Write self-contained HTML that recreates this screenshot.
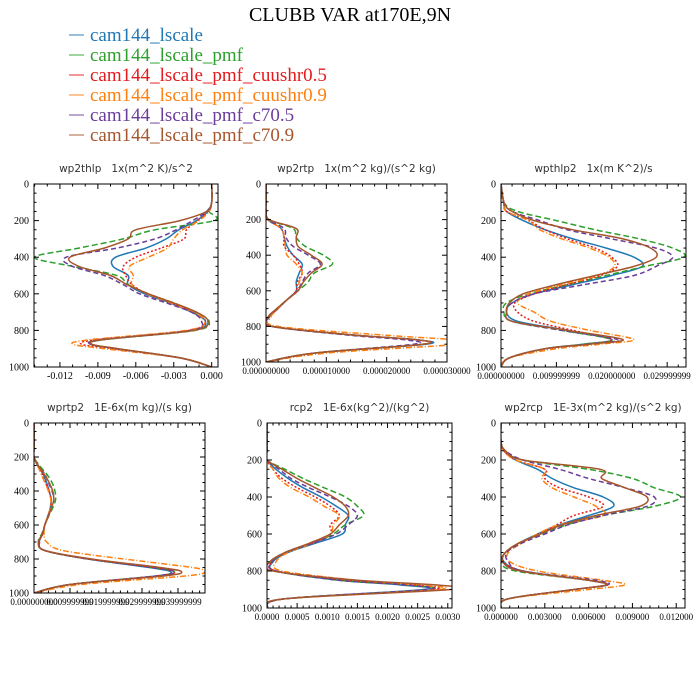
<!DOCTYPE html>
<html><head><meta charset="utf-8">
<style>
html,body{margin:0;padding:0;background:#fff;}
svg{display:block;}
text{white-space:pre;}
</style></head>
<body>
<svg id="chart" width="700" height="700" viewBox="0 0 700 700" xmlns="http://www.w3.org/2000/svg">
<rect width="700" height="700" fill="#fff"/>
<text x="350" y="21" text-anchor="middle" font-family="Liberation Serif, serif" font-size="20" fill="#000">CLUBB VAR at170E,9N</text>
<g id="legend"></g>
<g id="panels"></g>
</svg>
<script>
// shared data
const levels = [0,100,150,200,250,300,350,400,450,500,550,600,650,700,750,800,850,875,900,950,1000];
const seriesNames = ["cam144_lscale","cam144_lscale_pmf","cam144_lscale_pmf_cuushr0.5","cam144_lscale_pmf_cuushr0.9","cam144_lscale_pmf_c70.5","cam144_lscale_pmf_c70.9"];
const seriesColors = ["#1f77b4","#2ca02c","#e41a1c","#ff7f0e","#6a3d9a","#a6562c"];
const seriesDash = ["", "6,3", "2,2", "6,2,1,2", "5,3", ""];

// panel 1: wp2thlp (x1e-3)
const wp2thlp_blue   = [0,0,-0.3,-1.2,-2.6,-3.6,-5.2,-7.6,-7.8,-6.6,-6.6,-5.3,-3.3,-1.6,-0.5,-1.5,-8.5,-9.5,-7.5,-2.5,0];
const wp2thlp_green  = [0,0,-0.2,0.2,-4.5,-7,-10.5,-14,-11,-7.5,-6.6,-5.0,-3,-1.3,-0.2,-1.3,-8.5,-9.6,-7.5,-2.5,0];
const wp2thlp_red    = [0,0,-0.3,-1.1,-2,-2.2,-4,-6,-7,-6.8,-6.3,-5.1,-3.2,-1.5,-0.5,-1.8,-9,-10.3,-7.8,-2.5,0];
const wp2thlp_orange = [0,0,-0.2,-1,-2.3,-3,-3.5,-5,-6.5,-6.2,-6.3,-5.1,-3.2,-1.5,-0.5,-2,-9.5,-11,-8.5,-2.5,0];
const wp2thlp_purple = [0,0,-0.4,-1.5,-2.8,-4.5,-7.5,-11.5,-11,-8.5,-7,-5.7,-3.6,-1.6,-0.8,-1.6,-8.7,-9.6,-7.6,-2.5,0];
const wp2thlp_brown  = [0,0,-0.4,-2.5,-6,-6.6,-8.5,-11.2,-10.5,-8,-6.7,-5,-3,-1.2,-0.3,-1.4,-8.5,-9.5,-7.4,-2.5,0];
// panel 2: wp2rtp (x1e-6)
const wp2rtp_blue   = [0,0,0,0.3,2.5,3,3.5,4.5,6,5.5,5,5,3.5,2,0.5,1,15,25,26.5,8,0];
const wp2rtp_green  = [0,0,0,0.5,4.5,5,6.5,9.5,11,8,7,5.3,3.5,1.8,0.4,1,15,25,26,8,0];
const wp2rtp_red    = [0,0,0,0.3,2.5,3,3,4.5,5.5,6,5.2,5,3.5,2,0.5,1,15,25,26,8,0];
const wp2rtp_orange = [0,0,0,0.3,2.5,3,3.2,3.5,5,6,5.5,5.2,3.5,2,0.8,2,20,31,32,10,0];
const wp2rtp_purple = [0,0,0,0.4,3,3.3,4.5,7,9,7,6,5.2,3.5,1.8,0.4,1,14,23,24.5,8,0];
const wp2rtp_brown  = [0,0,0,0.5,5,5,5.3,7.5,9.3,7.5,6.2,5.3,3.5,1.8,0.3,1,15,25,26,8,0];
// panel 3: wpthlp2 (x1e-3)
const wpthlp2_blue   = [0,0.5,1,4,8,13,19,24,25.5,20,13,6,2,1,3,12,20,15,8,1.5,0];
const wpthlp2_green  = [0,0.5,3,10,17,25,31,33,26,19,12,5,1,0.5,2,11,20,15,8,1.5,0];
const wpthlp2_red    = [0,0.5,1,5,8,12,17,20,21,18,12,6,2.5,3,6,13,20,16,8,1.5,0];
const wpthlp2_orange = [0,0.5,1,5,7,11,16,19.5,20.5,17.5,11,5,3,6,9,16,24,18,10,1.5,0];
const wpthlp2_purple = [0,0.5,2,7,12,20,28,31,28,24,15,6,2,1,2,11,21,16,8,1.5,0];
const wpthlp2_brown  = [0,0.5,2,6,13,22,27,28,24,17,10,4,1.5,1,2,12,22,16,8,1.5,0];
// panel 4: wprtp2 (x1e-2)
const wprtp2_blue   = [0,0,0,0,0.1,0.25,0.35,0.42,0.48,0.45,0.38,0.3,0.25,0.15,0.3,1.5,3.2,3.8,3.4,1,0];
const wprtp2_green  = [0,0,0,0,0.15,0.35,0.5,0.58,0.6,0.52,0.4,0.3,0.22,0.12,0.3,1.5,3.3,3.9,3.4,1,0];
const wprtp2_red    = [0,0,0,0,0.1,0.22,0.32,0.42,0.47,0.45,0.38,0.3,0.25,0.15,0.3,1.5,3.3,3.9,3.4,1,0];
const wprtp2_orange = [0,0,0,0,0.1,0.2,0.3,0.4,0.47,0.45,0.38,0.3,0.28,0.35,0.8,2.5,4.4,4.75,4.2,1.3,0];
const wprtp2_purple = [0,0,0,0,0.12,0.3,0.4,0.5,0.55,0.48,0.4,0.3,0.24,0.14,0.3,1.5,3.3,3.9,3.4,1,0];
const wprtp2_brown  = [0,0,0,0,0.12,0.28,0.42,0.52,0.55,0.48,0.4,0.3,0.24,0.13,0.3,1.6,3.5,4.1,3.6,1,0];
// panel 5: rcp2 (x1e-3)
const rcp2_blue   = [0,0,0,0,0.15,0.35,0.6,0.9,1.15,1.35,1.3,1.25,0.8,0.35,0.1,0.15,1.2,2.2,2.6,0.3,0];
const rcp2_green  = [0,0,0,0,0.3,0.6,0.95,1.3,1.5,1.6,1.3,1.1,0.75,0.3,0.08,0.15,1.2,2.3,2.7,0.3,0];
const rcp2_red    = [0,0,0,0,0.1,0.25,0.5,0.8,1.05,1.2,1.05,1.05,0.75,0.3,0.08,0.15,1.3,2.4,2.75,0.3,0];
const rcp2_orange = [0,0,0,0,0.1,0.2,0.4,0.7,0.95,1.2,1.1,1.05,0.75,0.35,0.15,0.25,1.5,2.5,2.85,0.3,0];
const rcp2_purple = [0,0,0,0,0.2,0.4,0.7,1.05,1.35,1.5,1.35,1.15,0.75,0.3,0.08,0.15,1.2,2.3,2.65,0.3,0];
const rcp2_brown  = [0,0,0,0,0.25,0.5,0.8,1.1,1.3,1.35,1.2,1.05,0.7,0.3,0.05,0.1,1.5,2.8,3.05,0.3,0];
// panel 6: wp2rcp (x1e-3)
const wp2rcp_blue   = [0,0,0.2,1,2.5,3.5,5,7,7.7,6,4,2.5,1.2,0.3,0.2,1.5,6,7.2,5,0.5,0];
const wp2rcp_green  = [0,0,0.3,1.5,6,9,10.5,12.3,10.5,7,4.5,2.8,1.2,0.3,0,1,6,7.3,5,0.5,0];
const wp2rcp_red    = [0,0,0.2,1,3,3,4,6,7,5,3.8,2.6,1.2,0.3,0.2,1.5,6,7.3,5,0.5,0];
const wp2rcp_orange = [0,0,0.2,1,3,2.8,3.5,5,6.5,7,4,2.5,1.4,0.5,0.6,2.5,7,8.5,6,0.5,0];
const wp2rcp_purple = [0,0,0.3,1.5,4,6,8.5,10.5,10,7,4.6,3,1.4,0.4,0.5,1.5,6.5,7.3,5,0.5,0];
const wp2rcp_brown  = [0,0,0.3,1.5,6.8,6.9,8.5,10,9.5,6.5,4.2,2.7,1.2,0.3,0.1,1.3,6,7.2,5,0.5,0];

// tick labels
const p1Ticks = [-12,-9,-6,-3,0];
const p1Labels = ["-0.012","-0.009","-0.006","-0.003","0.000"];
const p2Ticks = [0,10,20,30];
const p2Labels = ["0.000000000","0.000010000","0.000020000","0.000030000"];
const p3Ticks = [0,10,20,30];
const p3Labels = ["0.000000000","0.009999999","0.020000000","0.029999999"];
const p4Ticks = [0,1,2,3,4];
const p4Labels = ["0.000000000","0.009999999","0.019999999","0.029999999","0.039999999"];
const p5Ticks = [0,0.5,1,1.5,2,2.5,3];
const p5Labels = ["0.0000","0.0005","0.0010","0.0015","0.0020","0.0025","0.0030"];
const p6Ticks = [0,3,6,9,12];
const p6Labels = ["0.000000","0.003000","0.006000","0.009000","0.012000"];
const yTicks = [0,200,400,600,800,1000];

const panels = [
 {name:"wp2thlp", title:"wp2thlp   1x(m^2 K)/s^2", L:34,R:218,T:184,B:367, xmin:-14.05,xmax:0.5, ticks:p1Ticks, labels:p1Labels, minor:1, lf:10,
  data:[wp2thlp_blue,wp2thlp_green,wp2thlp_red,wp2thlp_orange,wp2thlp_purple,wp2thlp_brown]},
 {name:"wp2rtp", title:"wp2rtp   1x(m^2 kg)/(s^2 kg)", L:266,R:447,T:184,B:362, xmin:0,xmax:30, ticks:p2Ticks, labels:p2Labels, minor:2, lf:9,
  data:[wp2rtp_blue,wp2rtp_green,wp2rtp_red,wp2rtp_orange,wp2rtp_purple,wp2rtp_brown]},
 {name:"wpthlp2", title:"wpthlp2   1x(m K^2)/s", L:501,R:686,T:184,B:367, xmin:0,xmax:33.4, ticks:p3Ticks, labels:p3Labels, minor:2, lf:9,
  data:[wpthlp2_blue,wpthlp2_green,wpthlp2_red,wpthlp2_orange,wpthlp2_purple,wpthlp2_brown]},
 {name:"wprtp2", title:"wprtp2   1E-6x(m kg)/(s kg)", L:34,R:205,T:423,B:593, xmin:0,xmax:4.75, ticks:p4Ticks, labels:p4Labels, minor:0.2, lf:9,
  data:[wprtp2_blue,wprtp2_green,wprtp2_red,wprtp2_orange,wprtp2_purple,wprtp2_brown]},
 {name:"rcp2", title:"rcp2   1E-6x(kg^2)/(kg^2)", L:267,R:452,T:423,B:608, xmin:0,xmax:3.07, ticks:p5Ticks, labels:p5Labels, minor:0.1, lf:9,
  data:[rcp2_blue,rcp2_green,rcp2_red,rcp2_orange,rcp2_purple,rcp2_brown]},
 {name:"wp2rcp", title:"wp2rcp   1E-3x(m^2 kg)/(s^2 kg)", L:501,R:685,T:423,B:608, xmin:0,xmax:12.6, ticks:p6Ticks, labels:p6Labels, minor:0.6, lf:9,
  data:[wp2rcp_blue,wp2rcp_green,wp2rcp_red,wp2rcp_orange,wp2rcp_purple,wp2rcp_brown]}
];

const NS = "http://www.w3.org/2000/svg";
function mk(tag, attrs, parent){
  const e = document.createElementNS(NS, tag);
  for (const k in attrs) e.setAttribute(k, attrs[k]);
  if (parent) parent.appendChild(e);
  return e;
}
function smoothPath(pts){
  let d = "M" + pts[0][0].toFixed(1) + "," + pts[0][1].toFixed(1);
  for (let i=0;i<pts.length-1;i++){
    const p0 = pts[Math.max(i-1,0)], p1 = pts[i], p2 = pts[i+1], p3 = pts[Math.min(i+2,pts.length-1)];
    const t = 1/6;
    const c1x = p1[0] + (p2[0]-p0[0])*t, c1y = p1[1] + (p2[1]-p0[1])*t;
    const c2x = p2[0] - (p3[0]-p1[0])*t, c2y = p2[1] - (p3[1]-p1[1])*t;
    d += " C" + c1x.toFixed(1)+","+c1y.toFixed(1)+" "+c2x.toFixed(1)+","+c2y.toFixed(1)+" "+p2[0].toFixed(1)+","+p2[1].toFixed(1);
  }
  return d;
}

// legend
const leg = document.getElementById("legend");
seriesNames.forEach((n,i)=>{
  const y = 35 + i*20;
  const ln = mk("line",{x1:69,x2:84,y1:y,y2:y,stroke:seriesColors[i],"stroke-width":1.3,opacity:0.7},leg);
  
  
  const t = mk("text",{x:90,y:y+6,"font-family":"Liberation Serif, serif","font-size":19,fill:seriesColors[i]},leg);
  t.textContent = n;
  
  
});

const root = document.getElementById("panels");
panels.forEach(p=>{
  const g = mk("g",{},root);
  
  
  const sx = v => p.L + (v - p.xmin)/(p.xmax - p.xmin)*(p.R - p.L);
  const sy = v => p.T + v/1000*(p.B - p.T);
  const tt = mk("text",{x:(p.L+p.R)/2,y:p.T-12,"text-anchor":"middle","font-family":"DejaVu Sans, sans-serif","font-size":10.5,fill:"#333"},g);
  tt.textContent = p.title;
  
  
  const clipId = "clip-"+p.name;
  const cp = mk("clipPath",{id:clipId},g);
  mk("rect",{x:p.L,y:p.T,width:p.R-p.L,height:p.B-p.T},cp);
  const sg = mk("g",{"clip-path":"url(#"+clipId+")"},g);
  p.data.forEach((arr,i)=>{
    const pts = arr.map((v,j)=>[sx(v), sy(levels[j])]);
    const pl = mk("path",{d:smoothPath(pts),fill:"none",stroke:seriesColors[i],"stroke-width":1.5,"stroke-linejoin":"round"},sg);
    if (seriesDash[i]) pl.setAttribute("stroke-dasharray", seriesDash[i]);
    
    
  });
  const fr = mk("rect",{x:p.L,y:p.T,width:p.R-p.L,height:p.B-p.T,fill:"none",stroke:"#000","stroke-width":1},g);
  
  
  for (let v=0; v<=1000; v+=50){
    const y = sy(v), major = v%200===0, len = major?5:2.5;
    mk("line",{x1:p.L,x2:p.L+len,y1:y,y2:y,stroke:"#000","stroke-width":1},g);
    mk("line",{x1:p.R,x2:p.R-len,y1:y,y2:y,stroke:"#000","stroke-width":1},g);
  }
  yTicks.forEach(v=>{
    const t = mk("text",{x:p.L-5,y:sy(v)+3.5,"text-anchor":"end","font-family":"Liberation Serif, serif","font-size":10,fill:"#000"},g);
    t.textContent = v;
    
    
  });
  const start = Math.ceil(p.xmin/p.minor - 1e-6);
  const end = Math.floor(p.xmax/p.minor + 1e-6);
  for (let k=start; k<=end; k++){
    const v = k*p.minor;
    const major = p.ticks.some(t=>Math.abs(t-v)<1e-6);
    const len = major?5:2.5, x = sx(v);
    mk("line",{x1:x,x2:x,y1:p.B,y2:p.B-len,stroke:"#000","stroke-width":1},g);
    mk("line",{x1:x,x2:x,y1:p.T,y2:p.T+len,stroke:"#000","stroke-width":1},g);
  }
  p.ticks.forEach((v,i)=>{
    const t = mk("text",{x:sx(v),y:p.B+12,"text-anchor":"middle","font-family":"Liberation Serif, serif","font-size":p.lf,fill:"#000"},g);
    t.textContent = p.labels[i];
    
    
  });
});
</script>
</body></html>
